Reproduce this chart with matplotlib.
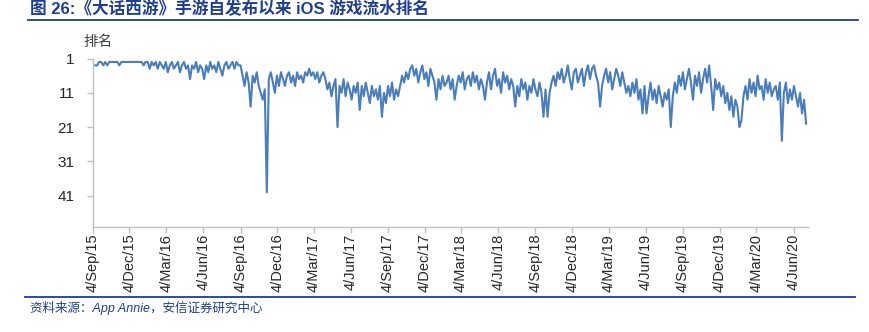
import numpy as np
import pandas as pd
import matplotlib
matplotlib.use('Agg')
import matplotlib.pyplot as plt
from matplotlib.lines import Line2D

# ------------------ data (rank, one value every 5 days)
start_date = '2015-09-10'
ranks = [
  3, 3, 2, 2, 3, 2, 3, 2, 2, 2, 2, 2,
  3, 2, 2, 2, 2, 2, 2, 2, 2, 2, 2, 2, 3, 2,
  2, 4, 2, 3, 2, 4, 2, 3,
  4, 2, 5, 3, 2, 4, 3, 2, 5, 3, 2, 4, 3,
  7, 3, 4, 2, 5, 3, 4,
  7, 3, 5, 2, 4, 3, 5, 2, 4,
  6, 3, 2, 4, 3, 2, 4, 2, 3,
  3, 6, 9, 5, 8, 15, 6, 8, 5, 9, 11, 13, 10,
  40,
  7, 5, 8, 11, 6, 9, 5, 7, 9, 6, 5, 8, 6, 9, 5, 7, 6, 8, 5, 6,
  4, 6, 5, 7, 5, 8, 6, 5,
  7, 10, 8, 12, 9, 7,
  21,
  9, 11, 7, 12, 8, 10, 13, 9, 11, 8,
  16,
  9, 12, 8, 11, 14, 9, 12, 10, 13, 9,
  18,
  11, 14, 9, 12, 8, 13, 10, 12, 9,
  6, 8, 5, 7, 4, 3, 6, 4, 8, 5, 3, 7, 5, 9, 4, 6, 8,
  13,
  7, 10, 6, 9, 8, 6, 10, 7,
  13,
  9, 6, 8, 5, 10, 7, 6, 9, 5, 8, 6, 10, 7, 9,
  13,
  8, 5, 10, 6, 4, 9, 7, 11, 5, 8, 6, 10, 7, 9,
  15,
  9, 12, 7, 10, 8, 13, 9, 11, 7, 10, 12, 8, 11,
  18, 10, 18,
  11, 8, 6, 9, 5, 7, 4, 8, 6, 3, 7, 10, 5, 4, 8, 6, 4, 9, 5, 3, 7, 4, 3, 6, 8,
  15,
  9, 6, 4, 8, 5, 10, 7, 4, 6, 9, 5, 8, 11,
  9, 12, 8, 11, 7, 13, 10, 17, 9, 17, 12, 8, 13, 10, 14, 9, 12, 15, 11, 13, 10,
  21,
  12, 8, 11, 6, 9, 5, 10, 7, 4, 8, 13, 6, 9, 5, 11, 7, 4, 8,
  3, 9, 16,
  7, 10, 8, 12, 9, 14, 11, 16, 12, 18, 13, 15,
  21, 19,
  12, 9, 13, 7, 11, 8, 12, 6, 10, 9, 13, 7, 11, 8, 12, 10, 9, 13, 8,
  25,
  11, 8, 14, 10, 13, 9, 12, 15, 11, 17, 13, 20,
]
y_ticks = [1, 11, 21, 31, 41]
x_tick_labels = ['4/Sep/15', '4/Dec/15', '4/Mar/16', '4/Jun/16', '4/Sep/16', '4/Dec/16',
                 '4/Mar/17', '4/Jun/17', '4/Sep/17', '4/Dec/17', '4/Mar/18', '4/Jun/18',
                 '4/Sep/18', '4/Dec/18', '4/Mar/19', '4/Jun/19', '4/Sep/19', '4/Dec/19',
                 '4/Mar/20', '4/Jun/20']
title = '图 26:《大话西游》手游自发布以来 iOS 游戏流水排名'
source = '资料来源：App Annie，安信证券研究中心'
# ------------------

W, H = 870.0, 332.0
navy = '#1F3F8C'
cjk = ['Liberation Sans', 'Noto Sans CJK SC', 'DejaVu Sans']
narrow = ['Liberation Sans Narrow', 'Liberation Sans', 'DejaVu Sans']

dates = pd.date_range(start_date, periods=len(ranks), freq='5D')
tick_dates = [pd.to_datetime(s, format='%d/%b/%y') for s in x_tick_labels]

fig = plt.figure(figsize=(W / 100, H / 100), dpi=100)
ax = fig.add_axes([92.7 / W, 1 - 226.7 / H, (807.7 - 92.7) / W, (226.7 - 58.5) / H])

ax.plot(dates, ranks, color='#4A7EBB', lw=1.5, solid_joinstyle='round')

ax.set_ylim(50, 1)
ax.set_yticks(y_ticks)
ax.set_xlim(pd.Timestamp('2015-09-04'), pd.Timestamp('2020-07-09'))
ax.set_xticks(tick_dates)
ax.set_xticklabels(x_tick_labels, rotation=90, va='top', ha='center')

for side in ['top', 'right']:
  ax.spines[side].set_visible(False)
for side in ['left', 'bottom']:
  ax.spines[side].set_color('#BFBFBF')
  ax.spines[side].set_linewidth(1.0)
ax.tick_params(axis='both', direction='out', length=4, width=1.0, color='#BFBFBF',
               labelcolor='#262626')
ax.tick_params(axis='y', pad=9)
ax.tick_params(axis='x', pad=1)
for lab in ax.get_yticklabels():
  lab.set_family(narrow)
  lab.set_fontsize(11)
for lab in ax.get_xticklabels():
  lab.set_family(narrow)
  lab.set_fontsize(10.5)

fig.text(98 / W, 1 - 42 / H, '排名', family=cjk, fontsize=10.5, color='#404040',
         ha='center', va='center')

# title + rules
fig.text(30 / W, 1 - 9 / H, title, family=cjk, fontsize=12, weight='bold',
         color=navy, ha='left', va='center')
fig.add_artist(Line2D([28 / W, 858 / W], [1 - 19.5 / H] * 2, color=navy, lw=1.3))
fig.add_artist(Line2D([25 / W, 855 / W], [1 - 297 / H] * 2, color=navy, lw=1.3))
fig.text(30 / W, 1 - 308 / H, source, family=cjk, fontsize=9, style='italic',
         color=navy, ha='left', va='center')

fig.savefig('out.png', dpi=100)
